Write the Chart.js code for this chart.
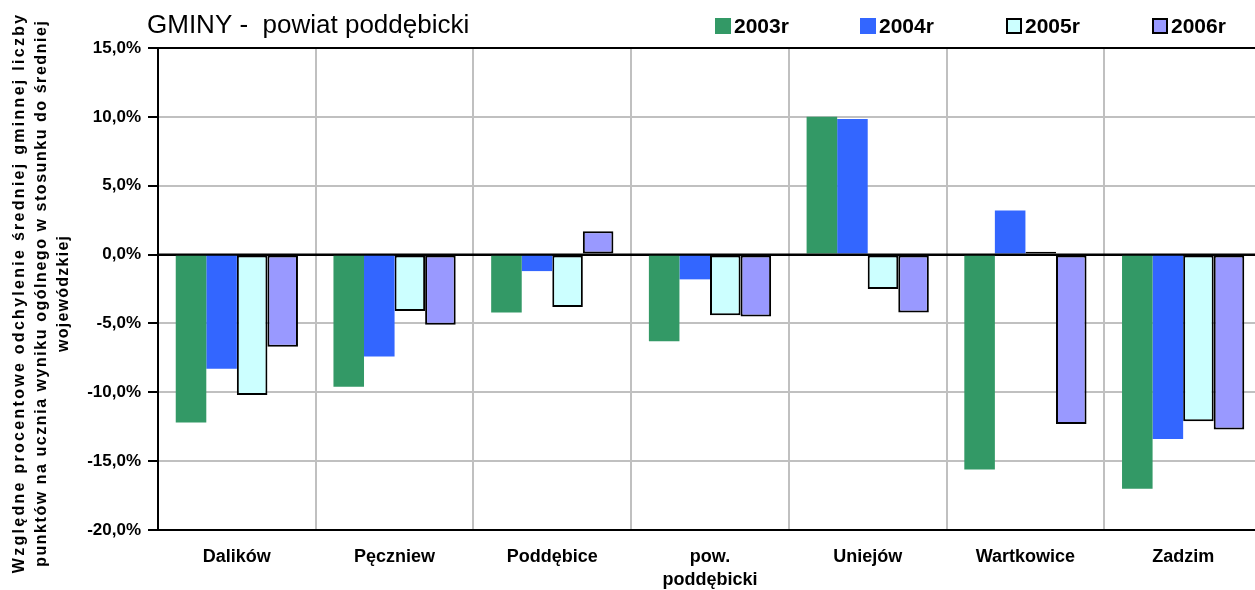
<!DOCTYPE html>
<html>
<head>
<meta charset="utf-8">
<script src="https://cdn.jsdelivr.net/npm/chart.js@4.4.1/dist/chart.umd.min.js"></script>
<style>
  html, body { margin: 0; padding: 0; background: #fff; overflow: hidden; }
  canvas { display: block; }
</style>
</head>
<body>
<canvas id="gminyChart" width="1262" height="590"></canvas>
<script>
// Data (percent)
const categories = ['Dalików', 'Pęczniew', 'Poddębice', ['pow.', 'poddębicki'], 'Uniejów', 'Wartkowice', 'Zadzim'];
const seriesNames = ['2003r', '2004r', '2005r', '2006r'];
const values2003 = [-12.2, -9.6, -4.2, -6.3, 10.0, -15.6, -17.0];
const values2004 = [-8.3, -7.4, -1.2, -1.8, 9.85, 3.2, -13.4];
const values2005 = [-10.2, -4.1, -3.8, -4.4, -2.5, 0.2, -12.1];
const values2006 = [-6.7, -5.1, 1.7, -4.5, -4.2, -12.3, -12.7];
const yMin = -20, yMax = 15, yStep = 5;

const chartTitle = 'GMINY -  powiat poddębicki';
const yTitleLines = [
    'Względne procentowe odchylenie średniej gminnej liczby',
    'punktów na ucznia wyniku ogólnego w stosunku do średniej',
    'wojewódzkiej'
];

const fills = ['#339966', '#3366FF', '#CCFFFF', '#9999FF'];
const borders = [0, 0, 2, 2];

const datasets = [values2003, values2004, values2005, values2006].map((vals, i) => ({
    label: seriesNames[i],
    data: vals,
    backgroundColor: fills[i],
    borderColor: '#000',
    borderWidth: borders[i],
    borderSkipped: false,
    categoryPercentage: 0.775,
    barPercentage: 1.0
}));

// zero line sits on top of the bars like in Excel
const zeroLinePlugin = {
    id: 'zeroLine',
    afterDatasetsDraw(chart) {
        const ctx = chart.ctx;
        const y = chart.scales.y.getPixelForValue(0);
        ctx.save();
        ctx.strokeStyle = '#000';
        ctx.lineWidth = 2;
        ctx.beginPath();
        ctx.moveTo(chart.chartArea.left, y);
        ctx.lineTo(chart.chartArea.right, y);
        ctx.stroke();
        ctx.restore();
    }
};

// title + legend on one line, rotated axis title with wide spacing
const headerPlugin = {
    id: 'header',
    afterDraw(chart) {
        const ctx = chart.ctx;
        ctx.save();
        ctx.fillStyle = '#000';
        ctx.textBaseline = 'alphabetic';
        ctx.textAlign = 'left';
        ctx.font = '26px "Liberation Sans", Arial, sans-serif';
        ctx.fillText(chartTitle, 147, 33);

        const legendX = [715, 860, 1006, 1152];
        ctx.font = 'bold 21px "Liberation Sans", Arial, sans-serif';
        seriesNames.forEach((name, i) => {
            ctx.fillStyle = fills[i];
            ctx.fillRect(legendX[i], 18, 16, 16);
            if (borders[i]) {
                ctx.strokeStyle = '#000';
                ctx.lineWidth = 2;
                ctx.strokeRect(legendX[i] + 1, 19, 14, 14);
            }
            ctx.fillStyle = '#000';
            ctx.fillText(name, legendX[i] + 19, 33);
        });

        ctx.font = 'bold 16px "Liberation Sans", Arial, sans-serif';
        ctx.textAlign = 'center';
        ctx.textBaseline = 'middle';
        const lineX = [20, 42, 64];
        const lineLen = [558, 546, 116];
        yTitleLines.forEach((line, i) => {
            ctx.letterSpacing = '0px';
            const w = ctx.measureText(line).width;
            const sp = Math.max(0, (lineLen[i] - w) / (line.length - 1));
            ctx.letterSpacing = sp.toFixed(2) + 'px';
            ctx.save();
            ctx.translate(lineX[i], 294 - sp / 2);
            ctx.rotate(-Math.PI / 2);
            ctx.fillText(line, 0, 0);
            ctx.restore();
        });
        ctx.restore();
    }
};

const ctx = document.getElementById('gminyChart').getContext('2d');
new Chart(ctx, {
    type: 'bar',
    data: { labels: categories, datasets: datasets },
    options: {
        responsive: false,
        animation: false,
        layout: { padding: { top: 48, left: 0, right: 0, bottom: 0 } },
        plugins: {
            legend: { display: false },
            title: { display: false },
            tooltip: { enabled: false }
        },
        scales: {
            x: {
                afterFit: (scale) => { scale.height = 60; },
                grid: {
                    color: '#C0C0C0',
                    lineWidth: 2,
                    drawTicks: false,
                    offset: true
                },
                border: { color: '#000', width: 2 },
                ticks: {
                    padding: 15,
                    color: '#000',
                    font: { family: '"Liberation Sans", Arial, sans-serif', size: 18, weight: 'bold', lineHeight: 1.3 },
                    maxRotation: 0,
                    autoSkip: false
                }
            },
            y: {
                min: yMin,
                max: yMax,
                afterFit: (scale) => { scale.width = 158; },
                grid: {
                    color: (c) => (c.tick && (c.tick.value === 0 || c.tick.value === yMax)) ? '#000' : '#C0C0C0',
                    lineWidth: 2,
                    tickColor: '#000',
                    tickLength: 10,
                    tickWidth: 2
                },
                border: { color: '#000', width: 2 },
                ticks: {
                    stepSize: yStep,
                    padding: 7,
                    color: '#000',
                    font: { family: '"Liberation Sans", Arial, sans-serif', size: 17, weight: 'bold' },
                    callback: (v) => v.toFixed(1).replace('.', ',') + '%'
                }
            }
        }
    },
    plugins: [zeroLinePlugin, headerPlugin]
});
</script>
</body>
</html>
